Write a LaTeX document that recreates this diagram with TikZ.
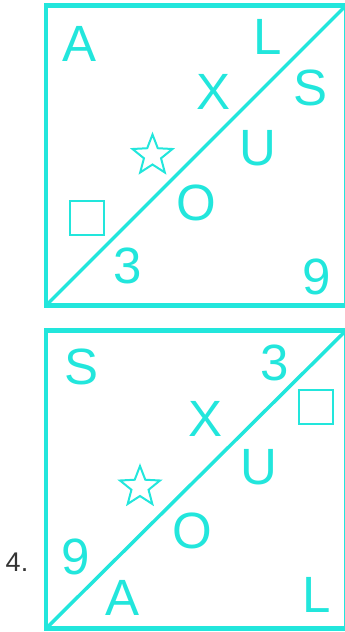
\documentclass[tikz,border=0pt]{standalone}
\usepackage{fontspec}
\setmainfont{Liberation Sans}
\usetikzlibrary{calc}
\definecolor{cy}{RGB}{34,230,220}
\definecolor{lab}{RGB}{51,51,51}
\begin{document}
\begin{tikzpicture}[x=1pt,y=-1pt,
  frame/.style={draw=cy,line width=4.5pt},
  diag/.style={draw=cy,line width=3.5pt},
  sym/.style={text=cy,inner sep=0pt,anchor=center,font=\fontsize{51}{51}\selectfont},
  boxsym/.style={draw=cy,line width=2pt,minimum size=34pt,inner sep=0pt},
  starline/.style={draw=cy,line width=2pt,line join=miter}]
\useasboundingbox (0,0) rectangle (345,632);
\begin{scope}
\clip (0,0) rectangle (345,632);
% top square
\coordinate (t1) at (46,5.5);
\coordinate (t2) at (346,305.5);
\coordinate (tbl) at (46,305.5);
\coordinate (ttr) at (346,5.5);
\draw[frame] (t1) rectangle (t2);
\draw[diag] (tbl) -- (ttr);
\node[sym] (tA) at (80,43.5) {A};
\node[sym] (tL) at (268,36.5) {L};
\node[sym] (tX) at (214,91.5) {X};
\node[sym] (tS) at (311,88) {S};
\node[sym] (tU) at (258,148.5) {U};
\node[sym] (tO) at (196,203) {O};
\node[sym] (t3) at (128,266) {3};
\node[sym] (t9) at (317,277) {9};
\node[boxsym] (tsq) at (87,218) {};
\coordinate (tst) at (152.5,155.5);
\draw[starline] ($(tst)+(-90:21)$)
  \foreach \k in {0,...,4} { -- ($(tst)+(-54+72*\k:9)$) -- ($(tst)+(-18+72*\k:21)$) } -- cycle;
% bottom square
\coordinate (b1) at (46,330.5);
\coordinate (b2) at (346,628.5);
\coordinate (bbl) at (46,628.5);
\coordinate (btr) at (346,330.5);
\draw[frame] (b1) rectangle (b2);
\draw[diag] (bbl) -- (btr);
\node[sym] (bS) at (82,366.5) {S};
\node[sym] (b3) at (275,363) {3};
\node[sym] (bX) at (205.5,418.5) {X};
\node[sym] (bU) at (259,467) {U};
\node[sym] (bO) at (192,530.5) {O};
\node[sym] (b9) at (76,557) {9};
\node[sym] (bA) at (123,597.5) {A};
\node[sym] (bL) at (316.5,594.5) {L};
\node[boxsym] (bsq) at (315.5,406.5) {};
\coordinate (bst) at (140,487);
\draw[starline] ($(bst)+(-90:21)$)
  \foreach \k in {0,...,4} { -- ($(bst)+(-54+72*\k:9)$) -- ($(bst)+(-18+72*\k:21)$) } -- cycle;
\node[text=lab,inner sep=0pt,font=\fontsize{27}{27}\selectfont] (num) at (17,562) {4.};
\end{scope}
\end{tikzpicture}
\end{document}
